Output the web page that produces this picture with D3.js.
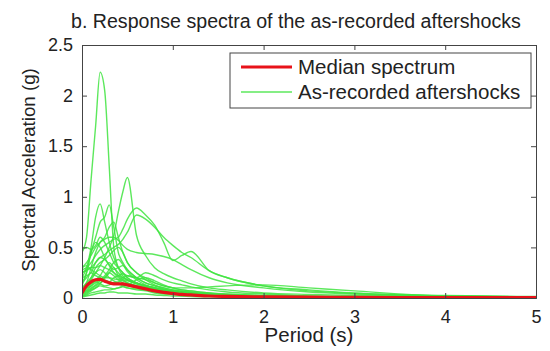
<!DOCTYPE html>
<html>
<head>
<meta charset="utf-8">
<script src="https://cdn.jsdelivr.net/npm/d3@7"></script>
<style>
  body { margin: 0; background: #fff; }
  text { font-family: "Liberation Sans", Arial, sans-serif; fill: #222; }
</style>
</head>
<body>
<script>
// periods (s) shared by all spectra
var periods = [0, 0.05, 0.1, 0.15, 0.2, 0.25, 0.3, 0.35, 0.4, 0.45, 0.5, 0.6, 0.7, 0.8, 0.9, 1.0, 1.1, 1.2, 1.4, 1.6, 2.0, 2.5, 3.0, 4.0, 5.0];

var medianSpectrum = [0.05, 0.12, 0.16, 0.18, 0.185, 0.165, 0.15, 0.14, 0.14, 0.14, 0.13, 0.11, 0.09, 0.07, 0.055, 0.045, 0.035, 0.03, 0.02, 0.016, 0.011, 0.008, 0.006, 0.004, 0.003];

var aftershocks = [
  [0.45, 0.6, 1.17, 1.7, 2.23, 2.05, 1.3, 0.5, 0.3, 0.22, 0.18, 0.14, 0.11, 0.09, 0.07, 0.06, 0.05, 0.045, 0.035, 0.03, 0.02, 0.015, 0.01, 0.007, 0.005],
  [0.1, 0.12, 0.18, 0.25, 0.32, 0.4, 0.5, 0.62, 0.85, 1.05, 1.19, 0.62, 0.42, 0.3, 0.24, 0.2, 0.17, 0.14, 0.1, 0.08, 0.05, 0.035, 0.025, 0.015, 0.01],
  [0.28, 0.3, 0.35, 0.42, 0.48, 0.52, 0.55, 0.58, 0.6, 0.68, 0.78, 0.89, 0.82, 0.72, 0.55, 0.37, 0.42, 0.46, 0.27, 0.2, 0.12, 0.08, 0.05, 0.025, 0.015],
  [0.25, 0.27, 0.3, 0.35, 0.4, 0.43, 0.47, 0.5, 0.53, 0.58, 0.65, 0.82, 0.78, 0.7, 0.6, 0.52, 0.45, 0.4, 0.27, 0.2, 0.12, 0.07, 0.045, 0.02, 0.012],
  [0.3, 0.35, 0.42, 0.5, 0.55, 0.58, 0.6, 0.6, 0.57, 0.52, 0.48, 0.45, 0.44, 0.43, 0.41, 0.38, 0.33, 0.28, 0.2, 0.15, 0.1, 0.06, 0.04, 0.02, 0.012],
  [0.2, 0.3, 0.5, 0.8, 0.93, 0.75, 0.55, 0.4, 0.3, 0.25, 0.2, 0.15, 0.12, 0.09, 0.07, 0.06, 0.05, 0.04, 0.03, 0.025, 0.015, 0.01, 0.008, 0.005, 0.003],
  [0.15, 0.25, 0.45, 0.6, 0.75, 0.8, 0.92, 0.7, 0.45, 0.35, 0.28, 0.2, 0.15, 0.12, 0.09, 0.07, 0.06, 0.05, 0.035, 0.025, 0.015, 0.01, 0.008, 0.005, 0.003],
  [0.1, 0.15, 0.3, 0.45, 0.55, 0.6, 0.7, 0.75, 0.6, 0.45, 0.35, 0.25, 0.18, 0.13, 0.1, 0.08, 0.065, 0.055, 0.04, 0.03, 0.02, 0.012, 0.008, 0.005, 0.003],
  [0.08, 0.12, 0.2, 0.3, 0.35, 0.38, 0.42, 0.47, 0.5, 0.45, 0.35, 0.25, 0.2, 0.15, 0.12, 0.1, 0.08, 0.07, 0.05, 0.035, 0.02, 0.012, 0.009, 0.005, 0.003],
  [0.12, 0.25, 0.45, 0.55, 0.5, 0.4, 0.32, 0.25, 0.2, 0.17, 0.15, 0.12, 0.1, 0.08, 0.06, 0.05, 0.04, 0.035, 0.025, 0.02, 0.012, 0.008, 0.006, 0.004, 0.003],
  [0.48, 0.5, 0.48, 0.52, 0.6, 0.55, 0.45, 0.35, 0.3, 0.25, 0.2, 0.15, 0.12, 0.1, 0.08, 0.06, 0.05, 0.045, 0.03, 0.025, 0.015, 0.01, 0.008, 0.005, 0.003],
  [0.25, 0.28, 0.3, 0.3, 0.32, 0.3, 0.28, 0.25, 0.22, 0.2, 0.18, 0.15, 0.12, 0.1, 0.08, 0.07, 0.06, 0.05, 0.04, 0.03, 0.02, 0.012, 0.009, 0.005, 0.003],
  [0.3, 0.32, 0.28, 0.25, 0.22, 0.2, 0.25, 0.3, 0.22, 0.18, 0.15, 0.12, 0.1, 0.08, 0.065, 0.055, 0.045, 0.04, 0.03, 0.022, 0.015, 0.01, 0.007, 0.004, 0.003],
  [0.15, 0.2, 0.25, 0.22, 0.2, 0.18, 0.16, 0.2, 0.22, 0.24, 0.22, 0.2, 0.25, 0.22, 0.18, 0.15, 0.13, 0.11, 0.08, 0.06, 0.04, 0.02, 0.015, 0.008, 0.005],
  [0.05, 0.08, 0.12, 0.15, 0.18, 0.2, 0.2, 0.19, 0.18, 0.2, 0.22, 0.2, 0.18, 0.15, 0.12, 0.1, 0.1, 0.1, 0.11, 0.12, 0.13, 0.1, 0.07, 0.02, 0.01],
  [0.03, 0.05, 0.08, 0.1, 0.12, 0.11, 0.1, 0.09, 0.1, 0.11, 0.1, 0.08, 0.07, 0.05, 0.04, 0.035, 0.03, 0.025, 0.02, 0.015, 0.01, 0.006, 0.004, 0.002, 0.002],
  [0.06, 0.1, 0.14, 0.16, 0.14, 0.12, 0.13, 0.15, 0.14, 0.12, 0.1, 0.09, 0.08, 0.06, 0.05, 0.04, 0.035, 0.03, 0.022, 0.017, 0.012, 0.008, 0.006, 0.003, 0.002],
  [0.02, 0.03, 0.05, 0.06, 0.07, 0.08, 0.08, 0.09, 0.1, 0.12, 0.14, 0.12, 0.1, 0.08, 0.06, 0.05, 0.045, 0.04, 0.03, 0.022, 0.015, 0.01, 0.007, 0.004, 0.003],
  [0.1, 0.15, 0.2, 0.25, 0.28, 0.25, 0.2, 0.17, 0.15, 0.13, 0.12, 0.1, 0.08, 0.065, 0.05, 0.045, 0.04, 0.035, 0.025, 0.02, 0.013, 0.009, 0.006, 0.004, 0.003],
  [0.04, 0.06, 0.09, 0.12, 0.15, 0.17, 0.16, 0.15, 0.16, 0.18, 0.17, 0.14, 0.12, 0.1, 0.085, 0.07, 0.06, 0.05, 0.04, 0.03, 0.02, 0.013, 0.009, 0.005, 0.003],
  [0.01, 0.02, 0.03, 0.04, 0.05, 0.05, 0.06, 0.06, 0.05, 0.05, 0.05, 0.04, 0.04, 0.03, 0.025, 0.02, 0.018, 0.015, 0.012, 0.01, 0.007, 0.005, 0.004, 0.002, 0.002],
  [0.08, 0.1, 0.12, 0.18, 0.22, 0.3, 0.35, 0.3, 0.25, 0.2, 0.18, 0.15, 0.12, 0.1, 0.08, 0.065, 0.055, 0.045, 0.035, 0.025, 0.016, 0.01, 0.007, 0.004, 0.003],
  [0.2, 0.22, 0.25, 0.35, 0.4, 0.38, 0.33, 0.28, 0.3, 0.32, 0.28, 0.2, 0.15, 0.12, 0.1, 0.08, 0.07, 0.06, 0.045, 0.035, 0.022, 0.014, 0.01, 0.006, 0.004],
  [0.02, 0.04, 0.07, 0.1, 0.14, 0.2, 0.25, 0.22, 0.18, 0.15, 0.13, 0.18, 0.2, 0.17, 0.13, 0.1, 0.08, 0.07, 0.05, 0.04, 0.025, 0.015, 0.01, 0.006, 0.004],
  [0.05, 0.07, 0.1, 0.13, 0.17, 0.22, 0.28, 0.35, 0.38, 0.33, 0.26, 0.18, 0.13, 0.1, 0.08, 0.06, 0.05, 0.045, 0.035, 0.027, 0.018, 0.011, 0.008, 0.005, 0.003]
];

var xTicks = [0, 1, 2, 3, 4, 5];
var yTicks = [0, 0.5, 1, 1.5, 2, 2.5];

var svgWidth = 550, svgHeight = 351;
var margin = { top: 45, right: 14, bottom: 53, left: 82 };
var chartWidth = svgWidth - margin.left - margin.right;
var chartHeight = svgHeight - margin.top - margin.bottom;

var green = "#3fe43f", red = "#e8121a";

var svg = d3.select("body").append("svg")
    .attr("width", svgWidth)
    .attr("height", svgHeight);

svg.append("rect").attr("width", svgWidth).attr("height", svgHeight).attr("fill", "#fff");

var chartGroup = svg.append("g")
    .attr("transform", `translate(${margin.left}, ${margin.top})`);

var xScale = d3.scaleLinear().domain([0, 5]).range([0, chartWidth]);
var yScale = d3.scaleLinear().domain([0, 2.5]).range([chartHeight, 0]);

var line = d3.line()
    .x((d, i) => xScale(periods[i]))
    .y(d => yScale(d))
    .curve(d3.curveMonotoneX);

chartGroup.append("defs").append("clipPath").attr("id", "plotClip")
  .append("rect").attr("width", chartWidth).attr("height", chartHeight);

var curves = chartGroup.append("g").attr("clip-path", "url(#plotClip)");

curves.selectAll(".shock")
    .data(aftershocks)
    .enter()
    .append("path")
    .attr("class", "shock")
    .attr("d", line)
    .attr("fill", "none")
    .attr("stroke", green)
    .attr("stroke-opacity", 0.85)
    .attr("stroke-width", 1.4);

curves.append("path")
    .datum(medianSpectrum)
    .attr("d", line)
    .attr("fill", "none")
    .attr("stroke", red)
    .attr("stroke-width", 3.2);

// axes, MATLAB style: ticks inward on all four sides
var bottomAxis = d3.axisBottom(xScale).tickValues(xTicks).tickSize(-5).tickPadding(12).tickFormat(d3.format("d"));
var leftAxis = d3.axisLeft(yScale).tickValues(yTicks).tickSize(-5).tickPadding(9).tickFormat(d => d);
var topAxis = d3.axisTop(xScale).tickValues(xTicks).tickSize(-5).tickFormat("");
var rightAxis = d3.axisRight(yScale).tickValues(yTicks).tickSize(-5).tickFormat("");

var xAxis = chartGroup.append("g").attr("transform", `translate(0, ${chartHeight})`).call(bottomAxis);
var yAxis = chartGroup.append("g").call(leftAxis);
chartGroup.append("g").call(topAxis);
chartGroup.append("g").attr("transform", `translate(${chartWidth}, 0)`).call(rightAxis);

chartGroup.selectAll(".domain").attr("stroke", "#444");
chartGroup.selectAll(".tick line").attr("stroke", "#444");
chartGroup.selectAll(".tick text")
    .style("font-size", "18px")
    .style("font-family", "Liberation Sans, Arial, sans-serif")
    .attr("fill", "#222");

// legend
var legend = chartGroup.append("g").attr("transform", `translate(${230 - margin.left}, ${53 - margin.top})`);
legend.append("rect")
    .attr("width", 301).attr("height", 55)
    .attr("fill", "#fff").attr("stroke", "#444").attr("stroke-width", 1);
legend.append("line").attr("x1", 11).attr("x2", 62).attr("y1", 14).attr("y2", 14)
    .attr("stroke", red).attr("stroke-width", 3.2);
legend.append("line").attr("x1", 11).attr("x2", 62).attr("y1", 39).attr("y2", 39)
    .attr("stroke", green).attr("stroke-opacity", 0.85).attr("stroke-width", 1.4);
legend.append("text").attr("x", 68).attr("y", 21).style("font-size", "20.5px").text("Median spectrum");
legend.append("text").attr("x", 68).attr("y", 46).style("font-size", "20.5px").text("As-recorded aftershocks");

// labels
svg.append("text")
    .attr("x", 71).attr("y", 28)
    .style("font-size", "19.6px")
    .text("b. Response spectra of the as-recorded aftershocks");

svg.append("text")
    .attr("x", 309).attr("y", 342)
    .attr("text-anchor", "middle")
    .style("font-size", "20.5px")
    .text("Period (s)");

svg.append("text")
    .attr("transform", "rotate(-90)")
    .attr("x", -170).attr("y", 35)
    .attr("text-anchor", "middle")
    .style("font-size", "18.7px")
    .text("Spectral Acceleration (g)");
</script>
</body>
</html>
